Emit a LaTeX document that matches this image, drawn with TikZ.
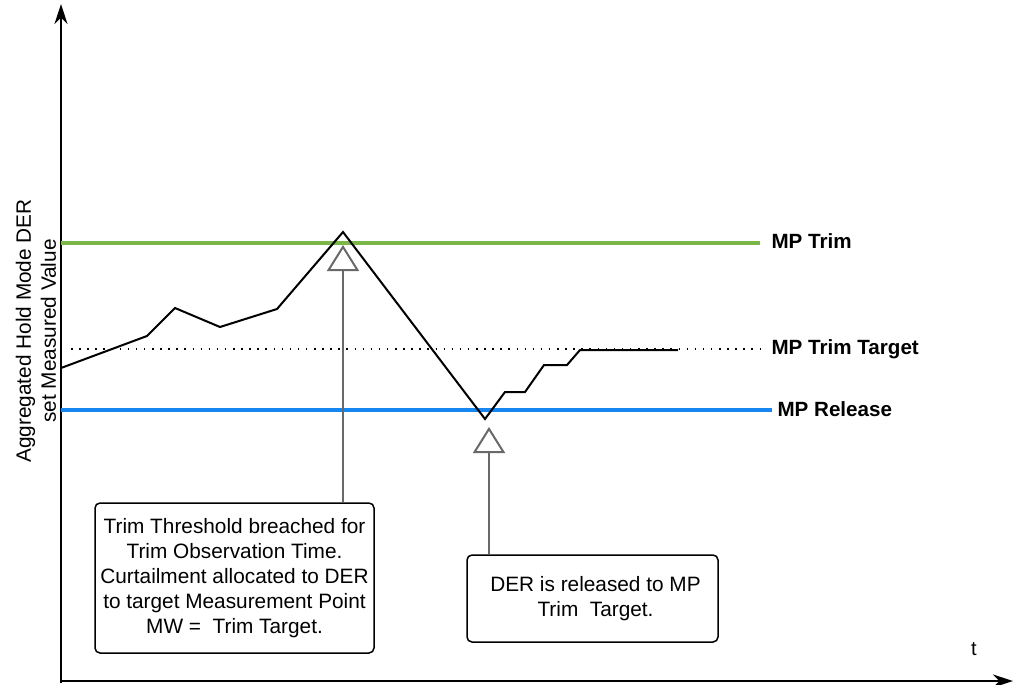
\documentclass[tikz,border=0pt]{standalone}
\usepackage{fontspec}
\setmainfont{Liberation Sans}
\usepackage{xcolor}
\usepackage{tikz}
\usetikzlibrary{arrows.meta,positioning,calc}

\definecolor{trimgreen}{RGB}{122,182,72}
\definecolor{relblue}{RGB}{22,134,240}
\definecolor{markgray}{RGB}{105,105,105}

\begin{document}
\begin{tikzpicture}[x=1pt,y=-1pt,
  note/.style={rectangle, draw, rounded corners=5pt, line width=1.5pt,
    font=\fontsize{20.8}{25}\selectfont, align=center, inner sep=0pt},
  lvl/.style={font=\fontsize{20.6}{22}\selectfont\bfseries, anchor=west},
  pointer/.style={draw=markgray, line width=1.6pt,
    -{Triangle[open, width=32pt, length=26pt, line width=2pt]}},
  axis/.style={line width=2pt, -{Stealth[width=13pt, length=20pt]}},
  >=Stealth
]
  \useasboundingbox (0,0) rectangle (1017,685);

  % axes
  \coordinate (orig) at (61,683);
  \coordinate (ytop) at (61,4);
  \coordinate (xend) at (1013,681);
  \draw[axis] (orig) -- (ytop);
  \draw[axis] (61,681) -- (xend);
  \node (tlab) at (974,649) {\fontsize{20}{22}\selectfont t};
  \node[rotate=90, align=center, font=\fontsize{20.8}{25}\selectfont] (ylab) at (36,331)
    {Aggregated Hold Mode DER\\set Measured Value};

  % levels
  \draw[trimgreen, line width=4pt] (61,243) -- (760,243);
  \draw[relblue, line width=4pt] (61,410) -- (772,410);
  \draw[line width=1.4pt, dash pattern=on 1.5pt off 6.6pt] (71,349) -- (764,349);
  \node[lvl] (trim) at (768,241) {MP Trim};
  \node[lvl] (target) at (768,349) {MP Trim Target};
  \node[lvl] (release) at (774,409) {MP Release};

  % measured value
  \draw[line width=2pt, line join=miter] (61,368) -- (147,336) -- (175,308) -- (220,327)
    -- (277,309) -- (343,232) -- (485,419) -- (505,392) -- (525,392) -- (544,365)
    -- (567,365) -- (580,350) -- (678,350);

  % notes
  \node[note, minimum width=279pt, minimum height=150pt] (thr) at (234.5,578)
    {Trim Threshold breached for\\Trim Observation Time.\\Curtailment allocated to DER\\to target Measurement Point\\MW =\ \ Trim Target.};
  \node[note, minimum width=251pt, minimum height=87pt] (rel) at (592.5,598.5)
    {\hspace*{6pt}DER is released to MP\\\hspace*{6pt}Trim\ \ Target.};

  \coordinate (peakmark) at (343,245);
  \coordinate (lowmark) at (489,427);
  \draw[pointer] (thr.north -| peakmark) -- (peakmark);
  \draw[pointer] (rel.north -| lowmark) -- (lowmark);
\end{tikzpicture}
\end{document}
